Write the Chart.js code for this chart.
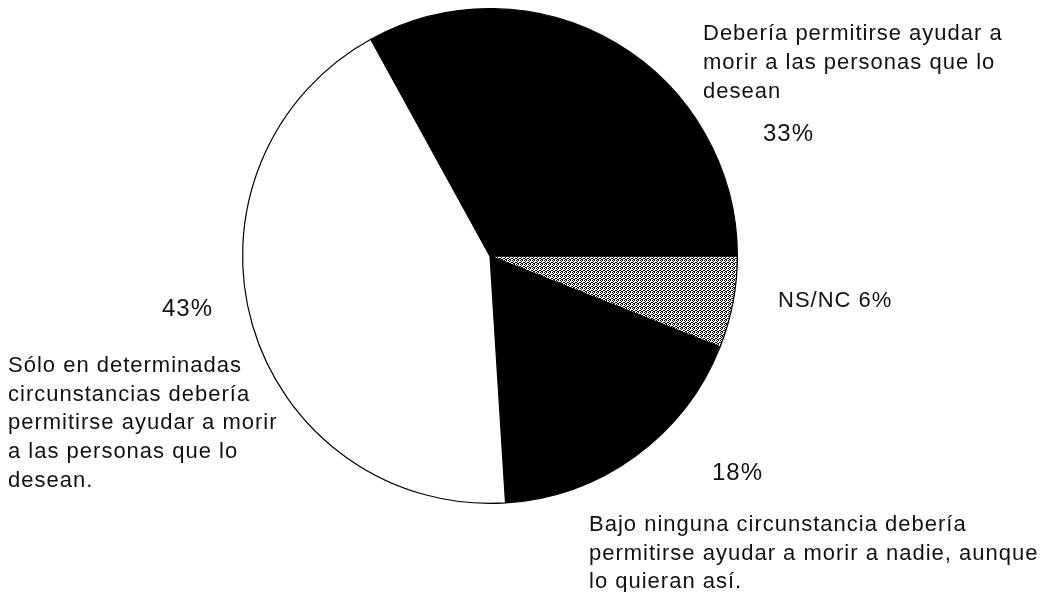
<!DOCTYPE html>
<html>
<head>
<meta charset="utf-8">
<script src="https://cdn.jsdelivr.net/npm/chart.js@4/dist/chart.umd.min.js"></script>
<style>
  html, body { margin: 0; padding: 0; background: #fff; }
  #wrap { width: 1044px; height: 592px; position: relative; }
</style>
</head>
<body>
<div id="wrap"><canvas id="pie"></canvas></div>
<script>
// clockwise from 3 o'clock
const labels = [
    'NS/NC',
    'Bajo ninguna circunstancia debería permitirse ayudar a morir a nadie, aunque lo quieran así.',
    'Sólo en determinadas circunstancias debería permitirse ayudar a morir a las personas que lo desean.',
    'Debería permitirse ayudar a morir a las personas que lo desean'
];
const values = [6, 18, 43, 33];

// text blocks, drawn by the plugin below (big = percentage size)
const textBlocks = [
    { x: 703, y: 40, lh: 29, big: false, lines: ['Debería permitirse ayudar a', 'morir a las personas que lo', 'desean'] },
    { x: 763, y: 141, lh: 0, big: true, lines: [values[3] + '%'] },
    { x: 778, y: 307, lh: 0, big: false, lines: ['NS/NC ' + values[0] + '%'] },
    { x: 162, y: 316, lh: 0, big: true, lines: [values[2] + '%'] },
    { x: 8, y: 372, lh: 28.7, big: false, lines: ['Sólo en determinadas', 'circunstancias debería', 'permitirse ayudar a morir', 'a las personas que lo', 'desean.'] },
    { x: 712, y: 480, lh: 0, big: true, lines: [values[1] + '%'] },
    { x: 589, y: 531, lh: 28.5, big: false, lines: ['Bajo ninguna circunstancia debería', 'permitirse ayudar a morir a nadie, aunque', 'lo quieran así.'] }
];

// dotted grey texture like the printed NS/NC slice
function makePattern() {
    const c = document.createElement('canvas');
    c.width = 4; c.height = 4;
    const g = c.getContext('2d');
    g.fillStyle = '#fff';
    g.fillRect(0, 0, 4, 4);
    g.fillStyle = '#000';
    [[0, 0], [2, 0], [1, 1], [3, 2], [0, 2], [2, 3], [1, 3]].forEach(p => g.fillRect(p[0], p[1], 1, 1));
    return g.createPattern(c, 'repeat');
}

const textPlugin = {
    id: 'textBlocks',
    afterDraw(chart) {
        const ctx = chart.ctx;
        ctx.save();
        ctx.fillStyle = '#111';
        ctx.letterSpacing = '1px';
        ctx.textBaseline = 'alphabetic';
        ctx.textAlign = 'left';
        textBlocks.forEach(b => {
            ctx.font = (b.big ? '24px' : '22px') + ' "Liberation Sans", Arial, sans-serif';
            b.lines.forEach((t, i) => ctx.fillText(t, b.x, b.y + i * b.lh));
        });
        ctx.restore();
    }
};

document.addEventListener('DOMContentLoaded', () => {
    const ctx = document.getElementById('pie').getContext('2d');
    new Chart(ctx, {
        type: 'pie',
        data: {
            labels: labels,
            datasets: [{
                data: values,
                backgroundColor: [makePattern(), '#000', '#fff', '#000'],
                borderColor: '#000',
                borderWidth: 1.2
            }]
        },
        options: {
            responsive: true,
            maintainAspectRatio: false,
            animation: false,
            rotation: 90,
            layout: {
                padding: { top: 8, bottom: 88, left: 242, right: 306 }
            },
            plugins: {
                legend: { display: false },
                tooltip: { enabled: false }
            }
        },
        plugins: [textPlugin]
    });
});
</script>
</body>
</html>
